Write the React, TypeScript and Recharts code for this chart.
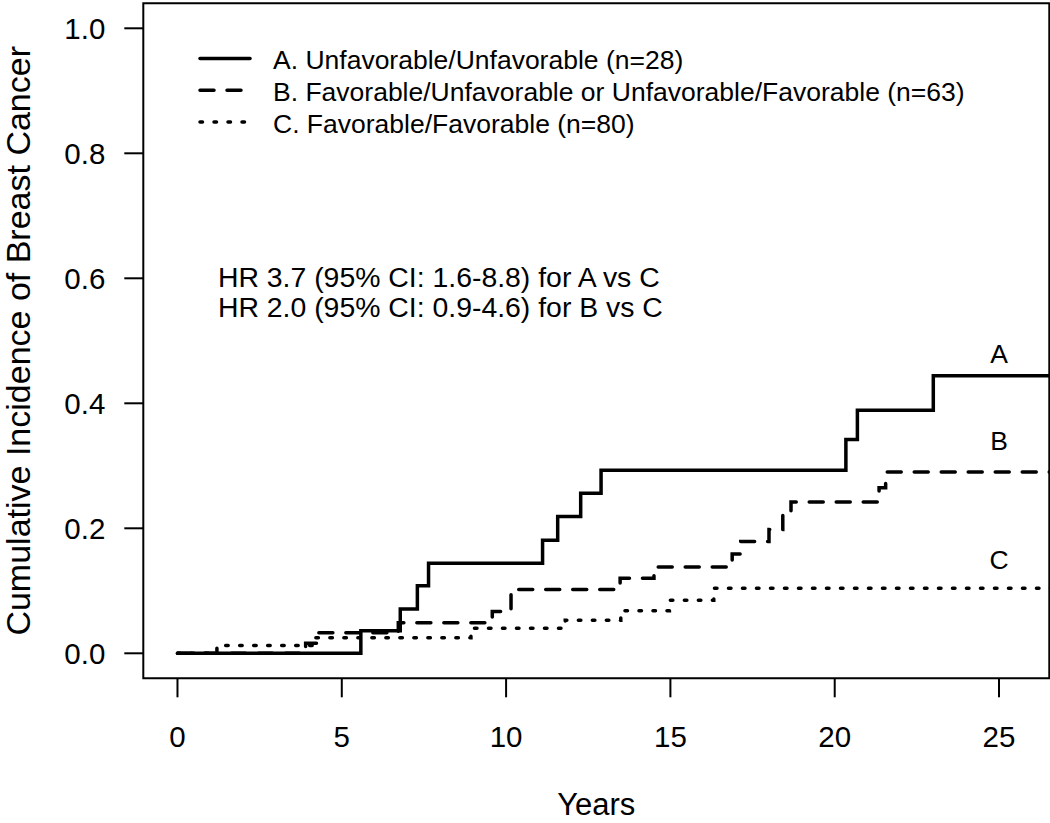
import { Label, Legend, Line, LineChart, ReferenceArea, ReferenceDot, XAxis, YAxis } from 'recharts'

const FONT = '"Liberation Sans", Arial, Helvetica, sans-serif'

// step times (years) and cumulative incidence
const aTimes = [0, 5.58, 6.78, 7.3, 7.64, 11.11, 11.57, 12.27, 12.89, 20.34, 20.69, 23.0, 27]
const aValues = [0, 0.036, 0.071, 0.108, 0.144, 0.181, 0.219, 0.256, 0.293, 0.342, 0.389, 0.444, 0.444]

const bTimes = [0, 3.9, 4.25, 6.72, 9.58, 10.15, 13.47, 14.5, 16.88, 17.14, 18.0, 18.42, 18.67, 21.35, 21.55, 27]
const bValues = [0, 0.016, 0.033, 0.049, 0.067, 0.102, 0.12, 0.138, 0.159, 0.179, 0.198, 0.222, 0.242, 0.265, 0.29, 0.29]

const cTimes = [0, 1.2, 4.1, 8.93, 11.8, 13.49, 14.97, 16.32, 27]
const cValues = [0, 0.0125, 0.025, 0.04, 0.053, 0.068, 0.085, 0.104, 0.104]

const xTicks = [0, 5, 10, 15, 20, 25]
const yTicks = [0, 0.2, 0.4, 0.6, 0.8, 1.0]

const seriesNames = [
  'A. Unfavorable/Unfavorable (n=28)',
  'B. Favorable/Unfavorable or Unfavorable/Favorable (n=63)',
  'C. Favorable/Favorable (n=80)',
]
const curveLetters = ['A', 'B', 'C']
const hrLines = ['HR 3.7 (95% CI: 1.6-8.8) for A vs C', 'HR 2.0 (95% CI: 0.9-4.6) for B vs C']

const toPoints = (times: number[], values: number[]) => times.map((t, i) => ({ t, v: values[i] }))

const series = [
  { key: 'a', data: toPoints(aTimes, aValues), dash: undefined as string | undefined },
  { key: 'b', data: toPoints(bTimes, bValues), dash: '14 13' },
  { key: 'c', data: toPoints(cTimes, cValues), dash: '2.5 11.5' },
]

const LW = 3.5

function renderLegend() {
  return (
    <svg width={1050} height={150} style={{ display: 'block' }}>
      {series.map((s, i) => (
        <g key={s.key}>
          <line x1={200} x2={250} y1={58.5 + i * 31.7} y2={58.5 + i * 31.7} stroke="#000" strokeWidth={LW} strokeDasharray={s.dash} strokeLinecap="round" />
          <text x={273} y={60 + i * 31.7} dy="0.355em" fontSize={26.5} fontFamily={FONT} fill="#000">
            {seriesNames[i]}
          </text>
        </g>
      ))}
    </svg>
  )
}

function textLabel(value: string, anchor: 'start' | 'middle', size: number) {
  return (props: any) => {
    const vb = props.viewBox || {}
    return (
      <text x={vb.x} y={vb.y} dy="0.355em" textAnchor={anchor} fontSize={size} fontFamily={FONT} fill="#000">
        {value}
      </text>
    )
  }
}

function yTitle() {
  return (
    <text x={30} y={340.8} transform="rotate(-90 30 340.8)" textAnchor="middle" fontSize={34} fontFamily={FONT} fill="#000">
      Cumulative Incidence of Breast Cancer
    </text>
  )
}

export default function App() {
  const tickStyle = { fill: '#000', fontSize: 29.5, fontFamily: FONT }
  return (
    <div style={{ position: 'absolute', left: 0, top: 0, width: 1050, height: 823, background: '#fff' }}>
      <LineChart width={1050} height={823} margin={{ top: 3.3, right: 0.7, bottom: 0, left: 0 }}>
        <XAxis
          type="number"
          dataKey="t"
          domain={[-1.04, 26.53]}
          allowDataOverflow
          ticks={xTicks}
          height={144.7}
          axisLine={false}
          tickSize={19}
          tickMargin={29}
          tickLine={{ stroke: '#000', strokeWidth: 2 }}
          tick={tickStyle}
        >
          <Label value="Years" position="insideBottom" offset={8} fontSize={31} fontFamily={FONT} fill="#000" />
        </XAxis>
        <YAxis
          type="number"
          domain={[-0.04, 1.04]}
          allowDataOverflow
          ticks={yTicks}
          width={143.3}
          axisLine={false}
          tickSize={19}
          tickMargin={19}
          tickLine={{ stroke: '#000', strokeWidth: 2 }}
          tick={tickStyle}
          tickFormatter={(v: number) => v.toFixed(1)}
        >
          <Label content={yTitle} />
        </YAxis>
        <ReferenceArea x1={-1.04} x2={26.53} y1={-0.04} y2={1.04} fill="none" fillOpacity={0} stroke="#000" strokeWidth={2} ifOverflow="visible" />
        {[...series].reverse().map((s) => (
          <Line
            key={s.key}
            data={s.data}
            dataKey="v"
            type="stepAfter"
            stroke="#000"
            strokeWidth={LW}
            strokeDasharray={s.dash}
            strokeLinecap="round"
            dot={false}
            activeDot={false}
            legendType="none"
            isAnimationActive={false}
          />
        ))}
        <ReferenceDot x={25} y={0.48} r={0} stroke="none" label={textLabel(curveLetters[0], 'middle', 26.5)} />
        <ReferenceDot x={25} y={0.34} r={0} stroke="none" label={textLabel(curveLetters[1], 'middle', 26.5)} />
        <ReferenceDot x={25} y={0.15} r={0} stroke="none" label={textLabel(curveLetters[2], 'middle', 26.5)} />
        <ReferenceDot x={1.23} y={0.603} r={0} stroke="none" label={textLabel(hrLines[0], 'start', 28.4)} />
        <ReferenceDot x={1.23} y={0.555} r={0} stroke="none" label={textLabel(hrLines[1], 'start', 28.4)} />
        <Legend
          layout="horizontal"
          verticalAlign="middle"
          align="center"
          content={renderLegend}
          wrapperStyle={{ left: 0, top: 0, width: 1050, height: 150 }}
        />
      </LineChart>
    </div>
  )
}
